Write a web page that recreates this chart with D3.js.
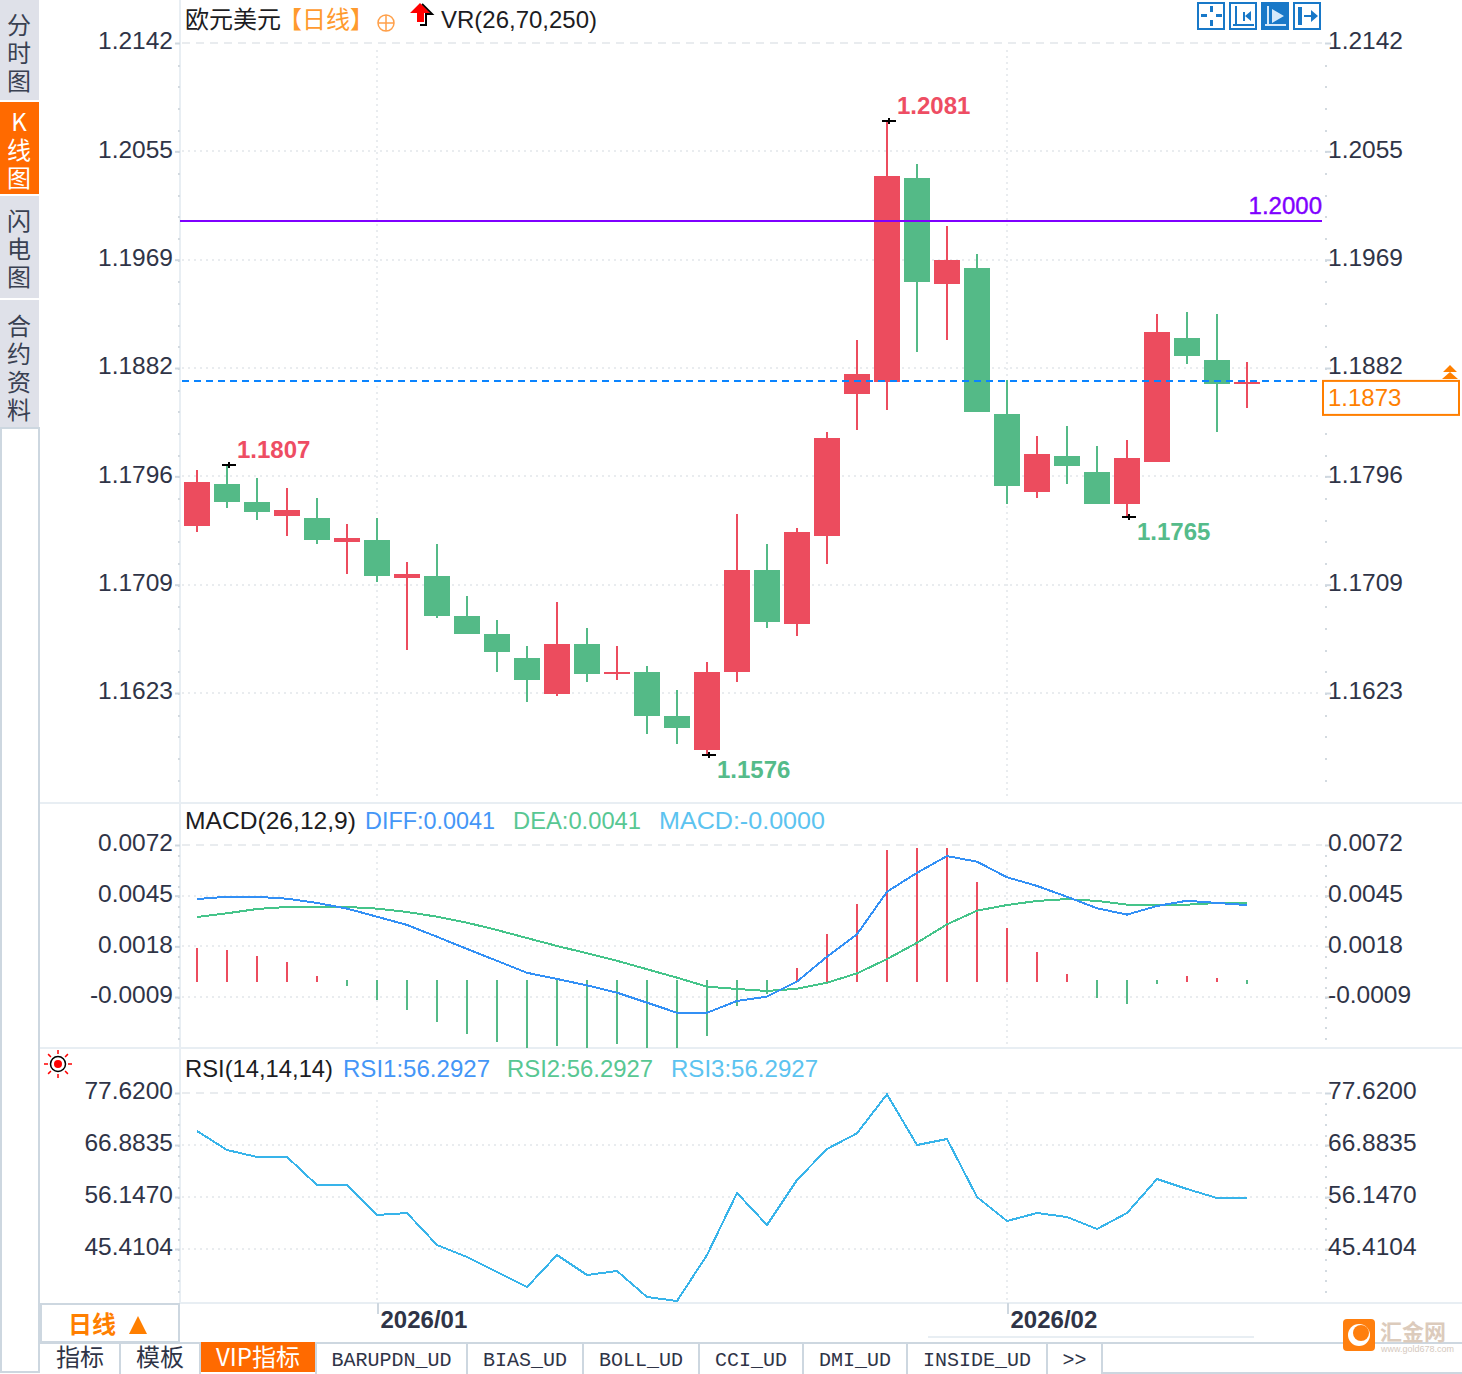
<!DOCTYPE html>
<html>
<head>
    <meta charset="utf-8">
    <title>欧元美元 日线</title>
    <script src="https://cdn.jsdelivr.net/npm/d3@7/dist/d3.min.js"></script>
    <style>
        html, body { margin: 0; padding: 0; background: #fff; }
        svg { display: block; }
        text { font-family: "Liberation Sans", Arial, sans-serif; font-size: 24px; fill: #2f3447; }
        .cjk, .cjk text { font-family: "Noto Sans CJK SC", sans-serif; }
        .grid { stroke: #e9ecef; stroke-width: 2; stroke-dasharray: 2 4; shape-rendering: crispEdges; }
        .axis text { fill: #2f3447; }
        .axis line { stroke: #cfd8e0; stroke-width: 2; }
        .axis path { display: none; }
        .crisp { shape-rendering: crispEdges; }
        .sidetab { writing-mode: vertical-rl; text-orientation: upright; letter-spacing: 4px; font-family: "Noto Sans CJK SC", sans-serif; }
    </style>
</head>
<body>
    <svg id="chart" width="1462" height="1374"></svg>
    <script>
        // trading days shown on the chart
        var dates = [
            "2025-12-23", "2025-12-24", "2025-12-26", "2025-12-29", "2025-12-30", "2025-12-31",
            "2026-01-02", "2026-01-05", "2026-01-06", "2026-01-07", "2026-01-08", "2026-01-09",
            "2026-01-12", "2026-01-13", "2026-01-14", "2026-01-15", "2026-01-16", "2026-01-19",
            "2026-01-20", "2026-01-21", "2026-01-22", "2026-01-23", "2026-01-26", "2026-01-27",
            "2026-01-28", "2026-01-29", "2026-01-30", "2026-02-02", "2026-02-03", "2026-02-04",
            "2026-02-05", "2026-02-06", "2026-02-09", "2026-02-10", "2026-02-11", "2026-02-12"
        ];

        var opens = [1.17563, 1.17898, 1.17755, 1.17643, 1.17627, 1.17435, 1.17451, 1.17148, 1.17164, 1.16844, 1.16701, 1.16509,
            1.16221, 1.16621, 1.16381, 1.16397, 1.16046, 1.15774, 1.16397, 1.17212, 1.16780, 1.17483, 1.18617, 1.18713,
            1.20342, 1.19495, 1.19623, 1.18457, 1.17834, 1.18122, 1.17994, 1.17739, 1.18074, 1.19064, 1.18888, 1.18697];
        var highs = [1.18010, 1.18050, 1.17946, 1.17866, 1.17786, 1.17579, 1.17627, 1.17275, 1.17419, 1.17004, 1.16812, 1.16605,
            1.16956, 1.16748, 1.16605, 1.16445, 1.16253, 1.16477, 1.17659, 1.17419, 1.17547, 1.18313, 1.19048, 1.20799,
            1.20454, 1.19958, 1.19735, 1.18729, 1.18282, 1.18361, 1.18202, 1.18250, 1.19256, 1.19272, 1.19256, 1.18872];
        var lows = [1.17515, 1.17707, 1.17611, 1.17483, 1.17419, 1.17180, 1.17116, 1.16573, 1.16828, 1.16701, 1.16397, 1.16158,
            1.16205, 1.16317, 1.16333, 1.15902, 1.15822, 1.15734, 1.16317, 1.16748, 1.16685, 1.17259, 1.18329, 1.18489,
            1.18952, 1.19048, 1.18473, 1.17739, 1.17786, 1.17898, 1.17739, 1.17637, 1.18074, 1.18856, 1.18313, 1.18505];
        var closes = [1.17914, 1.17755, 1.17675, 1.17691, 1.17451, 1.17467, 1.17164, 1.17180, 1.16844, 1.16701, 1.16557, 1.16333,
            1.16621, 1.16381, 1.16397, 1.16046, 1.15950, 1.16397, 1.17212, 1.16796, 1.17515, 1.18266, 1.18777, 1.20358,
            1.19511, 1.19687, 1.18473, 1.17882, 1.18138, 1.18042, 1.17739, 1.18106, 1.19112, 1.18920, 1.18697, 1.18713];

        var diffLine = [0.00432, 0.00444, 0.00444, 0.00434, 0.00411, 0.00381, 0.00338, 0.00294, 0.00231, 0.00166, 0.00103, 0.00039,
            0.00006, -0.00028, -0.00067, -0.00120, -0.00174, -0.00174, -0.00111, -0.00088, -0.00008, 0.00125, 0.00244, 0.00471,
            0.00572, 0.00661, 0.00631, 0.00548, 0.00502, 0.00444, 0.00383, 0.00349, 0.00395, 0.00423, 0.00411, 0.00400];
        var deaLine = [0.00336, 0.00356, 0.00379, 0.00390, 0.00391, 0.00390, 0.00381, 0.00363, 0.00338, 0.00306, 0.00267, 0.00224,
            0.00182, 0.00143, 0.00103, 0.00058, 0.00013, -0.00035, -0.00047, -0.00058, -0.00046, -0.00014, 0.00036, 0.00112,
            0.00199, 0.00297, 0.00370, 0.00400, 0.00422, 0.00432, 0.00422, 0.00402, 0.00402, 0.00402, 0.00411, 0.00411];
        var macdBars = [0.00171, 0.00160, 0.00128, 0.00096, 0.00022, -0.00031, -0.00106, -0.00159, -0.00223, -0.00287, -0.00330, -0.00362,
            -0.00351, -0.00362, -0.00341, -0.00362, -0.00362, -0.00298, -0.00138, -0.00074, 0.00064, 0.00246, 0.00406, 0.00693,
            0.00704, 0.00704, 0.00523, 0.00278, 0.00150, 0.00033, -0.00095, -0.00127, -0.00021, 0.00022, 0.00011, -0.00021];
        var rsiLine = [69.77, 65.85, 64.41, 64.41, 58.62, 58.62, 52.43, 52.84, 46.24, 43.76, 40.66, 37.56,
            44.17, 40.04, 40.87, 35.50, 34.67, 44.17, 56.97, 50.37, 59.66, 66.06, 69.30, 77.35,
            66.88, 68.12, 56.15, 51.19, 52.84, 52.02, 49.54, 52.84, 59.86, 57.80, 55.94, 55.94];

        // the platform cuts its tick labels, it does not round them
        var priceTicks = [1.2142, 1.20555, 1.1969, 1.18825, 1.1796, 1.17095, 1.1623];
        var macdTicks = [0.0072, 0.0045, 0.0018, -0.0009];
        var rsiTicks = [77.62, 66.8835, 56.147, 45.4104];
        var monthTicks = ["2026-01-02", "2026-02-02"];
        var monthLabels = ["2026/01", "2026/02"];

        var extremeDays = ["2025-12-24", "2026-01-27", "2026-01-19", "2026-02-06"];
        var extremeLabels = ["1.1807", "1.2081", "1.1576", "1.1765"];
        var extremeKinds = ["high", "high", "low", "low"];

        var alertLevel = 1.2000, alertLabel = "1.2000";
        var lastLevel = 1.18722, lastLabel = "1.1873";

        var sideTabs = ["分时图", "K线图", "闪电图", "合约资料"];
        var bottomTabs = ["指标", "模板", "VIP指标", "BARUPDN_UD", "BIAS_UD", "BOLL_UD", "CCI_UD", "DMI_UD", "INSIDE_UD", ">>"];
        var bottomEdges = [40, 120, 200, 316, 467, 583, 699, 803, 907, 1047, 1102];

        var red = "#ec4c5e", green = "#54ba87", orange = "#ff6a00", lineOrange = "#ff7f00",
            blue = "#3390f5", teal = "#45c48a", sky = "#38b4ea", frame = "#cdd7e0", pale = "#e8eef3";

        var svg = d3.select("#chart");
        var plotLeft = 180, plotRight = 1322;

        var x = d3.scalePoint().domain(dates).range([182, 1262]).padding(0.5);
        var yPrice = d3.scaleLinear().domain([1.2142, 1.1623]).range([43, 693]);
        var yMacd = d3.scaleLinear().domain([0.0072, -0.0009]).range([845, 997]);
        var yRsi = d3.scaleLinear().domain([77.62, 45.4104]).range([1093, 1249]);

        // frames, separators
        svg.append("rect").attr("x", 1).attr("y", 428).attr("width", 38).attr("height", 944)
            .attr("fill", "#fff").attr("stroke", frame).attr("stroke-width", 2);
        [[40, 803, 1462, 803], [40, 1048, 1462, 1048], [180, 1303, 1462, 1303]].forEach(function(s) {
            svg.append("line").attr("class", "crisp").attr("x1", s[0]).attr("y1", s[1]).attr("x2", s[2]).attr("y2", s[3])
                .attr("stroke", pale).attr("stroke-width", 2);
        });
        svg.append("line").attr("class", "crisp").attr("x1", 180).attr("y1", 0).attr("x2", 180).attr("y2", 1303)
            .attr("stroke", pale).attr("stroke-width", 2);
        svg.append("line").attr("class", "crisp").attr("x1", 928).attr("y1", 1337).attr("x2", 1254).attr("y2", 1337)
            .attr("stroke", pale).attr("stroke-width", 2);

        // grid + minor tick dots for one panel
        function drawPanelGrid(scale, ticks, top, bottom) {
            ticks.forEach(function(t, i) {
                svg.append("line").attr("class", "grid")
                    .attr("x1", plotLeft + 2).attr("x2", plotRight)
                    .attr("y1", Math.round(scale(t))).attr("y2", Math.round(scale(t)))
                    .style("stroke-dasharray", i == 0 ? "8 6" : "2 4");
            });
            monthTicks.forEach(function(m) {
                svg.append("line").attr("class", "grid")
                    .attr("x1", x(m)).attr("x2", x(m))
                    .attr("y1", top).attr("y2", bottom);
            });
            var step = (scale(ticks[1]) - scale(ticks[0])) / 5;
            [plotLeft - 1, 1326].forEach(function(px) {
                svg.append("line").attr("class", "crisp")
                    .attr("x1", px).attr("x2", px)
                    .attr("y1", scale(ticks[0]) + step).attr("y2", Math.min(scale(ticks[ticks.length - 1]) + step * 5, bottom))
                    .attr("stroke", "#d3dae0").attr("stroke-width", 2)
                    .attr("stroke-dasharray", "2 " + (step - 2));
            });
        }
        drawPanelGrid(yPrice, priceTicks, 50, 800);
        drawPanelGrid(yMacd, macdTicks, 850, 1045);
        drawPanelGrid(yRsi, rsiTicks, 1100, 1300);

        function cutLabel(d) {
            return (Math.floor(Math.abs(d) * 1e4 + 1e-6) / 1e4 * (d < 0 ? -1 : 1)).toFixed(4);
        }

        // axes on both sides
        function drawAxes(scale, ticks, fmt) {
            var left = svg.append("g").attr("class", "axis")
                .attr("transform", "translate(" + plotLeft + ",0)")
                .call(d3.axisLeft(scale).tickValues(ticks).tickFormat(fmt).tickSize(5).tickPadding(2));
            var right = svg.append("g").attr("class", "axis")
                .attr("transform", "translate(1325,0)")
                .call(d3.axisRight(scale).tickValues(ticks).tickFormat(fmt).tickSize(6).tickPadding(-3));
            [left, right].forEach(function(a) {
                a.selectAll("text").attr("dy", "0.24em").style("font-size", "24.5px").style("font-family", '"Liberation Sans", Arial, sans-serif');
            });
        }
        drawAxes(yPrice, priceTicks, cutLabel);
        drawAxes(yMacd, macdTicks, function(d) { return d.toFixed(4); });
        drawAxes(yRsi, rsiTicks, function(d) { return d.toFixed(4); });

        // month axis
        var monthAxis = svg.append("g").attr("class", "axis")
            .attr("transform", "translate(0,1303)")
            .call(d3.axisBottom(x).tickValues(monthTicks).tickSize(11).tickFormat(function(d, i) { return monthLabels[i]; }));
        monthAxis.selectAll("text")
            .attr("text-anchor", "start").attr("x", 3).attr("y", 24.5).attr("dy", 0)
            .style("font-size", "24px").style("font-weight", "bold").style("font-family", '"Liberation Sans", Arial, sans-serif');
        monthAxis.selectAll("line").attr("class", "crisp");

        // candles
        var candles = svg.append("g").attr("class", "crisp").selectAll("g").data(dates).enter().append("g")
            .attr("fill", function(d, i) { return closes[i] >= opens[i] ? red : green; });
        candles.append("rect")
            .attr("x", function(d) { return x(d) - 1; })
            .attr("width", 2)
            .attr("y", function(d, i) { return yPrice(highs[i]); })
            .attr("height", function(d, i) { return yPrice(lows[i]) - yPrice(highs[i]); });
        candles.append("rect")
            .attr("x", function(d) { return x(d) - 13; })
            .attr("width", 26)
            .attr("y", function(d, i) { return yPrice(Math.max(opens[i], closes[i])); })
            .attr("height", function(d, i) { return Math.max(2, Math.abs(yPrice(opens[i]) - yPrice(closes[i]))); });

        // horizontal levels sit on top of the candles
        svg.append("line").attr("class", "crisp").attr("x1", plotLeft).attr("x2", plotRight)
            .attr("y1", yPrice(alertLevel)).attr("y2", yPrice(alertLevel))
            .attr("stroke", "#7f00ff").attr("stroke-width", 2);
        svg.append("text").attr("x", plotRight).attr("y", yPrice(alertLevel) - 7)
            .attr("text-anchor", "end").style("fill", "#8000ff").style("stroke", "#8000ff").style("stroke-width", 0.4).text(alertLabel);
        svg.append("line").attr("class", "crisp").attr("x1", plotLeft + 2).attr("x2", plotRight)
            .attr("y1", yPrice(lastLevel)).attr("y2", yPrice(lastLevel))
            .attr("stroke", "#0a84ff").attr("stroke-width", 2).attr("stroke-dasharray", "7 5");
        svg.append("rect").attr("x", 1323).attr("y", yPrice(lastLevel)).attr("width", 136).attr("height", 34)
            .attr("fill", "#fff").attr("stroke", lineOrange).attr("stroke-width", 2);
        svg.append("text").attr("x", 1328).attr("y", yPrice(lastLevel) + 25).style("fill", lineOrange).text(lastLabel);
        svg.append("path").attr("d", "M1452 365 l7 7 h-14 z M1452 372 l8 7 h-16 z").attr("fill", lineOrange)
            .attr("transform", "translate(-2,0)");

        // high / low markers
        extremeDays.forEach(function(day, k) {
            var i = dates.indexOf(day), isHigh = extremeKinds[k] == "high";
            var px = x(day), py = yPrice(isHigh ? highs[i] : lows[i]);
            svg.append("path").attr("class", "crisp")
                .attr("d", "M" + (px - 5) + " " + py + "h14M" + (px + 2) + " " + (py - 3) + "v6")
                .attr("stroke", "#000").attr("stroke-width", 2).attr("fill", "none");
            svg.append("text").attr("x", px + 10).attr("y", isHigh ? py - 7 : py + 23)
                .style("font-weight", "bold").style("fill", isHigh ? "#ee4d63" : "#55bb8a")
                .text(extremeLabels[k]);
        });

        // MACD, the red bars run 2px below the zero line in the source
        svg.append("g").attr("class", "crisp").selectAll("rect").data(macdBars).enter().append("rect")
            .attr("x", function(d, i) { return x(dates[i]) - 1; })
            .attr("width", 2)
            .attr("y", function(d) { return Math.min(yMacd(d), yMacd(0)); })
            .attr("height", function(d) { return Math.abs(yMacd(d) - yMacd(0)) + (d >= 0 ? 2 : 0); })
            .attr("fill", function(d) { return d >= 0 ? red : green; });

        function indexLine(scale) {
            return d3.line().x(function(d, i) { return x(dates[i]); }).y(function(d) { return scale(d); });
        }
        svg.append("path").attr("d", indexLine(yMacd)(deaLine)).attr("fill", "none").attr("stroke", teal).attr("stroke-width", 2).attr("class", "crisp");
        svg.append("path").attr("d", indexLine(yMacd)(diffLine)).attr("fill", "none").attr("stroke", blue).attr("stroke-width", 2).attr("class", "crisp");

        // RSI
        svg.append("path").attr("d", indexLine(yRsi)(rsiLine)).attr("fill", "none").attr("stroke", sky).attr("stroke-width", 2).attr("class", "crisp");

        // panel captions, widths
        function caption(px, py, str, color, width) {
            svg.append("text").attr("x", px).attr("y", py).attr("textLength", width)
                .attr("lengthAdjust", "spacingAndGlyphs").style("fill", color).text(str);
        }
        caption(185, 829, "MACD(26,12,9)", "#1c1c22", 171);
        caption(365, 829, "DIFF:0.0041", "#4496f7", 130);
        caption(513, 829, "DEA:0.0041", "#58c793", 128);
        caption(659, 829, "MACD:-0.0000", "#5cc3f0", 166);
        caption(185, 1077, "RSI(14,14,14)", "#1c1c22", 148);
        caption(343, 1077, "RSI1:56.2927", "#4496f7", 147);
        caption(507, 1077, "RSI2:56.2927", "#58c793", 146);
        caption(671, 1077, "RSI3:56.2927", "#5cc3f0", 147);

        // title row
        var title = svg.append("g").attr("class", "cjk");
        title.append("text").attr("x", 185).attr("y", 28).style("fill", "#1c1c22").text("欧元美元");
        title.append("text").attr("x", 278).attr("y", 28).style("fill", "#ff9a2e").text("【日线】");
        svg.append("circle").attr("cx", 386).attr("cy", 23).attr("r", 8).attr("fill", "none").attr("stroke", "#ffa04a").attr("stroke-width", 1.5);
        svg.append("path").attr("d", "M378 23h16M386 15v16").attr("stroke", "#ffa04a").attr("stroke-width", 1.5);
        svg.append("path").attr("d", "M422 4 l10 10 h-6 v11 h-6").attr("fill", "none").attr("stroke", "#000").attr("stroke-width", 2);
        svg.append("path").attr("d", "M420 3 l10 10 h-6 v9 h-7 v-9 h-7 z").attr("fill", "#f00");
        caption(441, 28, "VR(26,70,250)", "#1c1c22", 156);

        // toolbar buttons, top right
        var buttonBlue = "#1878c8";
        var buttonX = [1197, 1229, 1261, 1293];
        var buttonIcons = [
            "M13 4h3v6h-3zM13 18h3v6h-3zM4 12h6v3h-6zM19 12h6v3h-6z",
            "M6 4h2v19h-2zM4 22h21v2h-21zM14 10h2v9h-2zM16 14l6-5v10z",
            "M6 4h2v19h-2zM4 22h21v2h-21zM11 7l12 7-12 7z",
            "M5 5h4v18h-4zM11 13h7v-5l7 6-7 6v-5h-7z"
        ];
        buttonX.forEach(function(bx, i) {
            var filled = i == 2;
            var g = svg.append("g").attr("transform", "translate(" + bx + ",2)");
            g.append("rect").attr("x", 1).attr("y", 1).attr("width", 26).attr("height", 26)
                .attr("fill", filled ? buttonBlue : "#fff").attr("stroke", buttonBlue).attr("stroke-width", 2);
            g.append("path").attr("d", buttonIcons[i]).attr("fill", filled ? "#d5e9fa" : buttonBlue);
        });

        // left side tabs
        var sideTop = [0, 102, 196, 300], sideBottom = [100, 194, 298, 427], sideText = [13, 110, 209, 314];
        sideTabs.forEach(function(name, i) {
            var active = i == 1;
            svg.append("rect").attr("x", 0).attr("y", sideTop[i]).attr("width", 39).attr("height", sideBottom[i] - sideTop[i])
                .attr("fill", active ? orange : "#dfe1e9");
            svg.append("text").attr("class", "sidetab").attr("x", 19).attr("y", sideText[i])
                .style("fill", active ? "#fff" : "#3a4152").text(name);
        });

        // period box
        svg.append("rect").attr("x", 41).attr("y", 1304).attr("width", 138).attr("height", 38)
            .attr("fill", "#fff").attr("stroke", frame).attr("stroke-width", 2);
        svg.append("text").attr("x", 68).attr("y", 1333).style("font-family", '"Noto Sans CJK SC", sans-serif')
            .style("font-weight", "bold").style("fill", lineOrange).text("日线");
        svg.append("path").attr("d", "M138 1316l9 18h-18z").attr("fill", lineOrange);

        // bottom tabs
        svg.append("line").attr("class", "crisp").attr("x1", 40).attr("x2", 1462).attr("y1", 1343).attr("y2", 1343).attr("stroke", frame).attr("stroke-width", 2);
        svg.append("line").attr("class", "crisp").attr("x1", 1102).attr("x2", 1462).attr("y1", 1373).attr("y2", 1373).attr("stroke", frame).attr("stroke-width", 2);
        bottomTabs.forEach(function(name, i) {
            var l = bottomEdges[i], r = bottomEdges[i + 1], active = name == "VIP指标";
            if (active) {
                svg.append("rect").attr("x", l + 1).attr("y", 1342).attr("width", r - l - 2).attr("height", 30).attr("fill", orange);
            }
            svg.append("line").attr("class", "crisp").attr("x1", r).attr("x2", r).attr("y1", 1343).attr("y2", 1374).attr("stroke", frame).attr("stroke-width", 2);
            var isLatin = /^[A-Z_>]+$/.test(name);
            svg.append("text").attr("x", (l + r) / 2).attr("y", 1366)
                .attr("text-anchor", "middle")
                .style("font-family", isLatin ? '"Liberation Mono", monospace' : '"Noto Sans CJK SC", sans-serif')
                .style("font-size", isLatin ? "20px" : "24px")
                .style("fill", active ? "#fff" : "#2f3447")
                .text(name);
        });

        // RSI marker icon
        var sun = svg.append("g").attr("transform", "translate(58,1064)");
        d3.range(8).forEach(function(k) {
            var a = k * Math.PI / 4;
            sun.append("line")
                .attr("x1", 10 * Math.cos(a)).attr("y1", 10 * Math.sin(a))
                .attr("x2", 14 * Math.cos(a)).attr("y2", 14 * Math.sin(a))
                .attr("stroke", "#f00").attr("stroke-width", 1.5);
        });
        sun.append("circle").attr("r", 7.5).attr("fill", "#fff").attr("stroke", "#000").attr("stroke-width", 1.5);
        sun.append("circle").attr("r", 4).attr("fill", "#f00");

        // watermark
        var mark = svg.append("g").attr("transform", "translate(1343,1319)");
        mark.append("rect").attr("width", 32).attr("height", 32).attr("rx", 4).attr("fill", "#ff7f0e");
        mark.append("circle").attr("cx", 16).attr("cy", 16).attr("r", 11).attr("fill", "#fff");
        mark.append("circle").attr("cx", 18).attr("cy", 14).attr("r", 8).attr("fill", "#ff7f0e");
        svg.append("text").attr("x", 1380).attr("y", 1340).style("font-family", '"Noto Sans CJK SC", sans-serif')
            .style("font-size", "22px").style("font-weight", "bold").style("fill", "#dccbbc").text("汇金网");
        svg.append("text").attr("x", 1381).attr("y", 1352).style("font-size", "9px").style("fill", "#d5c9be").text("www.gold678.com");
    </script>
</body>
</html>
